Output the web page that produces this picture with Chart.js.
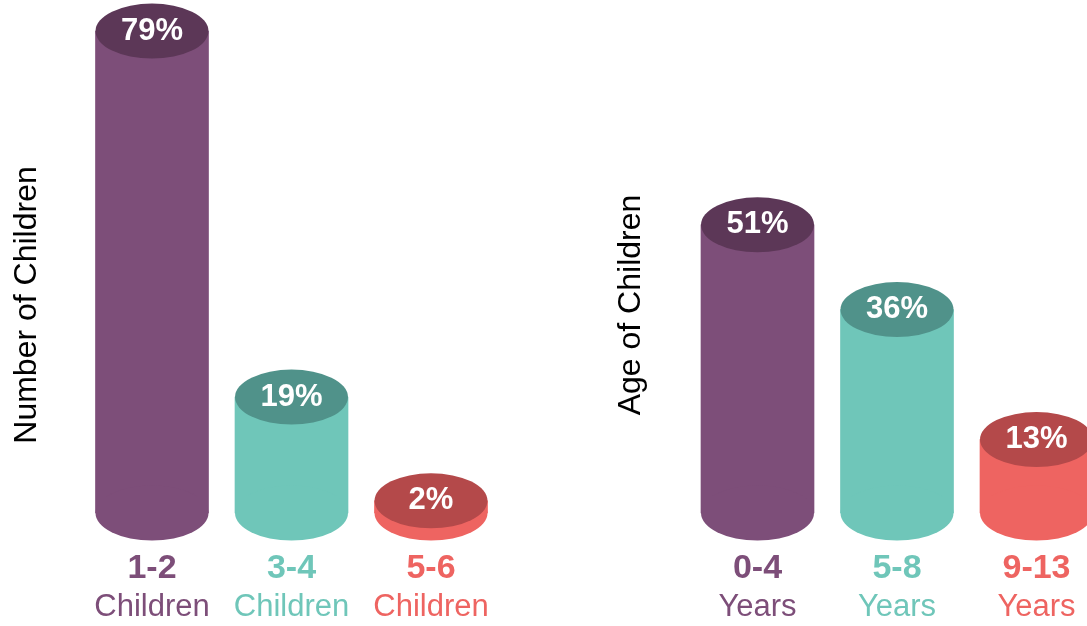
<!DOCTYPE html>
<html>
<head>
<meta charset="utf-8">
<script src="https://cdn.jsdelivr.net/npm/chart.js@4.4.1/dist/chart.umd.min.js"></script>
<style>
  html, body { margin: 0; padding: 0; background: #fff; overflow: hidden; width: 1087px; height: 626px; }
  #leftChart { position: absolute; left: 0; top: 0; }
  #rightChart { position: absolute; left: 600px; top: 0; }
</style>
</head>
<body>
<canvas id="leftChart" width="520" height="626"></canvas>
<canvas id="rightChart" width="530" height="626"></canvas>
<script>
// Données
const childCountLabels = ['1-2', '3-4', '5-6'];
const childCountValues = [79, 19, 2];
const childAgeLabels = ['0-4', '5-8', '9-13'];
const childAgeValues = [51, 36, 13];

const fontFamily = "'Liberation Sans', Arial, Helvetica, sans-serif";
const bodyColors = ['#7d4e79', '#6fc6b9', '#ee6461'];
const topColors = ['#5c3757', '#50928a', '#b4494a'];

// Cylindres : ellipse du bas, ellipse du haut, valeur et libellés
const cylinderPlugin = {
  id: 'cylinders',
  afterDatasetsDraw(chart, args, opts) {
    const ctx = chart.ctx;
    const ds = chart.data.datasets[0];
    chart.getDatasetMeta(0).data.forEach((bar, i) => {
      const rx = bar.width / 2;
      ctx.save();
      ctx.fillStyle = ds.backgroundColor[i];
      ctx.beginPath();
      ctx.ellipse(bar.x, bar.base, rx, opts.ry, 0, 0, Math.PI * 2);
      ctx.fill();
      ctx.fillStyle = topColors[i];
      ctx.beginPath();
      ctx.ellipse(bar.x, bar.y, rx, opts.ry, 0, 0, Math.PI * 2);
      ctx.fill();

      ctx.textAlign = 'center';
      ctx.textBaseline = 'middle';
      ctx.fillStyle = '#ffffff';
      ctx.font = 'bold 31px ' + fontFamily;
      ctx.fillText(ds.data[i] + '%', bar.x, bar.y);

      ctx.fillStyle = ds.backgroundColor[i];
      ctx.font = 'bold 34px ' + fontFamily;
      ctx.fillText(chart.data.labels[i], bar.x, bar.base + 56);
      ctx.font = '31px ' + fontFamily;
      ctx.fillText(opts.subLabel, bar.x, bar.base + 94);
      ctx.restore();
    });
  }
};

function makeCylinderChart(canvasId, labels, values, title, subLabel, yMin, yMax, padLeft, padRight, axisWidth) {
  return new Chart(document.getElementById(canvasId), {
    type: 'bar',
    data: {
      labels: labels,
      datasets: [{
        data: values,
        backgroundColor: bodyColors,
        borderWidth: 0,
        barThickness: 113
      }]
    },
    options: {
      responsive: false,
      animation: false,
      events: [],
      layout: { padding: { left: padLeft, right: padRight, top: 0, bottom: 16 } },
      plugins: {
        legend: { display: false },
        tooltip: { enabled: false },
        cylinders: { ry: 27.5, subLabel: subLabel }
      },
      scales: {
        x: { display: false },
        y: {
          min: yMin,
          max: yMax,
          grid: { display: false },
          border: { display: false },
          ticks: { display: false },
          title: {
            display: true,
            text: title,
            color: '#000000',
            padding: 0,
            font: { size: 32, family: fontFamily }
          },
          afterFit: function (scale) {
            scale.width = axisWidth;
          }
        }
      }
    },
    plugins: [cylinderPlugin]
  });
}

makeCylinderChart('leftChart', childCountLabels, childCountValues, 'Number of Children', 'Children',
  -15.9, 84.1, 8, 19.25, 74.25);
makeCylinderChart('rightChart', childAgeLabels, childAgeValues, 'Age of Children', 'Years',
  -17.17, 90.8, 11.8, 23.75, 75.95);
</script>
</body>
</html>
